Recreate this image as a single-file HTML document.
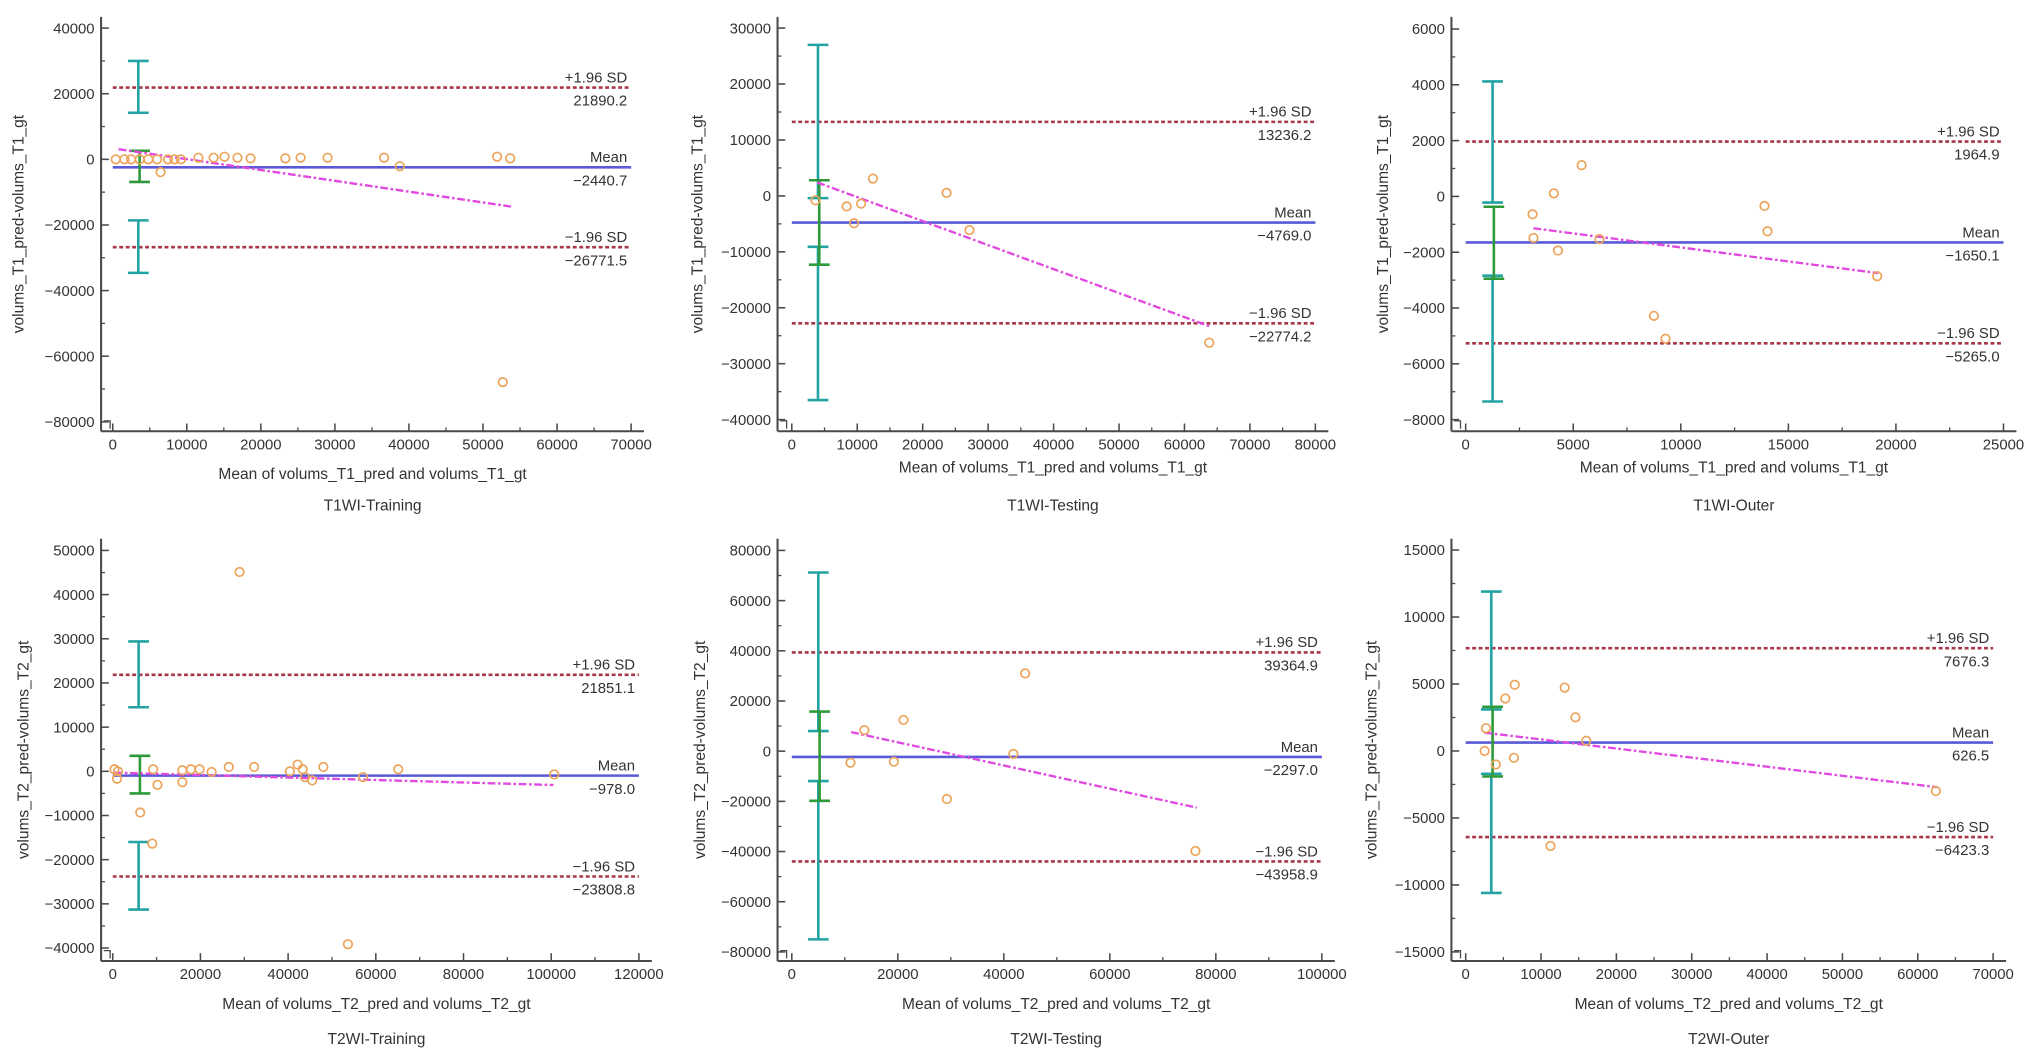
<!DOCTYPE html>
<html><head><meta charset="utf-8"><style>
html,body{margin:0;padding:0;background:#fff;}
svg{display:block;font-family:"Liberation Sans",Arial,sans-serif;}
</style></head><body>
<svg id="fig" width="2032" height="1062" viewBox="0 0 1568 820" preserveAspectRatio="none" xmlns="http://www.w3.org/2000/svg"></svg>
<script>
// ---- data ----
const p1X=[410,1590,2470,3640,4810,5990,6460,7460,8340,9220,11570,13620,15090,16850,18610,23310,25370,29010,36640,38760,51910,53670,52670];
const p1Y=[0,0,0,0,0,0,-3900,0,0,0,500,500,800,500,300,300,500,500,500,-2100,800,300,-67900];
const p1Stats=[21890.2,-2440.7,-26771.5];
const p1Reg=[800,3100,53800,-14400];
const p1CI=[3450,30000,14200,2600,-6900,-18600,-34600];

const p2X=[3620,8380,9510,10590,12400,23650,27140,63790];
const p2Y=[-790,-1880,-4900,-1390,3090,540,-6110,-26250];
const p2Stats=[13236.2,-4769.0,-22774.2];
const p2Reg=[3900,2400,63800,-23300];
const p2CI=[4000,27000,-400,2800,-12300,-9100,-36500];

const p3X=[3110,3150,4100,4290,5390,6220,8750,9290,13890,14030,19130];
const p3Y=[-640,-1490,110,-1940,1120,-1530,-4280,-5100,-340,-1250,-2860];
const p3Stats=[1964.9,-1650.1,-5265.0];
const p3Reg=[3150,-1140,19180,-2750];
const p3CI=[1250,4120,-220,-370,-2950,-2840,-7350];

const p4X=[390,980,1180,6270,9020,9220,10200,15880,15880,17840,19800,22550,26470,28920,32250,40390,42160,43330,43820,45490,48040,53630,57060,65100,100690];
const p4Y=[460,-1680,0,-9330,-16360,460,-3060,230,-2450,460,460,-150,990,45110,990,0,1530,460,-1300,-2060,990,-39140,-1300,460,-700];
const p4Stats=[21851.1,-978.0,-23808.8];
const p4Reg=[400,-300,100500,-3100];
const p4CI=[5900,29400,14500,3500,-5000,-16000,-31300];

const p5X=[11070,13690,19260,21070,29260,41800,44020,76150];
const p5Y=[-4600,8390,-4190,12450,-19080,-1080,30990,-39780];
const p5Stats=[39364.9,-2297.0,-43958.9];
const p5Reg=[11200,7600,76400,-22500];
const p5CI=[5000,71200,8000,15800,-19800,-11900,-75000];

const p6X=[2510,2690,4000,5260,6400,6510,11260,13140,14570,16000,62400];
const p6Y=[0,1700,-1010,3920,-510,4940,-7090,4730,2510,760,-2990];
const p6Stats=[7676.3,626.5,-6423.3];
const p6Reg=[2500,1370,62500,-2700];
const p6CI=[3400,11900,3100,3300,-1900,-1700,-10600];

const p1XTicks=[0,10000,20000,30000,40000,50000,60000,70000];
const p1YTicks=[40000,20000,0,-20000,-40000,-60000,-80000];
const p2XTicks=[0,10000,20000,30000,40000,50000,60000,70000,80000];
const p2YTicks=[30000,20000,10000,0,-10000,-20000,-30000,-40000];
const p3XTicks=[0,5000,10000,15000,20000,25000];
const p3YTicks=[6000,4000,2000,0,-2000,-4000,-6000,-8000];
const p4XTicks=[0,20000,40000,60000,80000,100000,120000];
const p4YTicks=[50000,40000,30000,20000,10000,0,-10000,-20000,-30000,-40000];
const p5XTicks=[0,20000,40000,60000,80000,100000];
const p5YTicks=[80000,60000,40000,20000,0,-20000,-40000,-60000,-80000];
const p6XTicks=[0,10000,20000,30000,40000,50000,60000,70000];
const p6YTicks=[15000,10000,5000,0,-5000,-10000,-15000];

// ---- layout ----
const svg=document.getElementById('fig');
const NS='http://www.w3.org/2000/svg';
function mk(tag,attrs,parent){const e=document.createElementNS(NS,tag);for(const k in attrs)e.setAttribute(k,attrs[k]);(parent||svg).appendChild(e);return e;}

const panels=[
 {id:'t1-training',x:p1X,y:p1Y,s:p1Stats,r:p1Reg,ci:p1CI,xt:p1XTicks,yt:p1YTicks,spine:78,px0:87,px1:487,top:13,axisY:333,py0:21.7,py1:325.7,xlab:'Mean of volums_T1_pred and volums_T1_gt',ylab:'volums_T1_pred-volums_T1_gt',title:'T1WI-Training',xlabY:370,titleY:394,yoff:60},
 {id:'t1-testing',x:p2X,y:p2Y,s:p2Stats,r:p2Reg,ci:p2CI,xt:p2XTicks,yt:p2YTicks,spine:600,px0:611,px1:1015,top:13,axisY:333,py0:21.7,py1:324,xlab:'Mean of volums_T1_pred and volums_T1_gt',ylab:'volums_T1_pred-volums_T1_gt',title:'T1WI-Testing',xlabY:365,titleY:394,yoff:58},
 {id:'t1-outer',x:p3X,y:p3Y,s:p3Stats,r:p3Reg,ci:p3CI,xt:p3XTicks,yt:p3YTicks,spine:1120,px0:1131,px1:1546,top:13,axisY:333,py0:22.4,py1:324,xlab:'Mean of volums_T1_pred and volums_T1_gt',ylab:'volums_T1_pred-volums_T1_gt',title:'T1WI-Outer',xlabY:365,titleY:394,yoff:49},
 {id:'t2-training',x:p4X,y:p4Y,s:p4Stats,r:p4Reg,ci:p4CI,xt:p4XTicks,yt:p4YTicks,spine:78,px0:87,px1:493,top:416,axisY:742,py0:425,py1:732,xlab:'Mean of volums_T2_pred and volums_T2_gt',ylab:'volums_T2_pred-volums_T2_gt',title:'T2WI-Training',xlabY:779,titleY:806,yoff:56},
 {id:'t2-testing',x:p5X,y:p5Y,s:p5Stats,r:p5Reg,ci:p5CI,xt:p5XTicks,yt:p5YTicks,spine:600,px0:611,px1:1020,top:416,axisY:742,py0:425,py1:735,xlab:'Mean of volums_T2_pred and volums_T2_gt',ylab:'volums_T2_pred-volums_T2_gt',title:'T2WI-Testing',xlabY:779,titleY:806,yoff:56},
 {id:'t2-outer',x:p6X,y:p6Y,s:p6Stats,r:p6Reg,ci:p6CI,xt:p6XTicks,yt:p6YTicks,spine:1120,px0:1131,px1:1538,top:416,axisY:742,py0:424.7,py1:735,xlab:'Mean of volums_T2_pred and volums_T2_gt',ylab:'volums_T2_pred-volums_T2_gt',title:'T2WI-Outer',xlabY:779,titleY:806,yoff:58}
];

panels.forEach(p=>{
 const g=mk('g',{});
 
 
 const xmin=p.xt[0],xmax=p.xt[p.xt.length-1];
 const ymax=p.yt[0],ymin=p.yt[p.yt.length-1];
 const sx=v=>p.px0+(v-xmin)/(xmax-xmin)*(p.px1-p.px0);
 const sy=v=>p.py0+(ymax-v)/(ymax-ymin)*(p.py1-p.py0);
 const ax='#4a4a4a';
 const ya=mk('line',{x1:p.spine,y1:p.top,x2:p.spine,y2:p.axisY,stroke:ax,'stroke-width':1.6},g);
 
 
 const xa=mk('line',{x1:p.spine,y1:p.axisY,x2:p.px1+10,y2:p.axisY,stroke:ax,'stroke-width':1.6},g);
 
 
 p.yt.forEach((t,i)=>{
  const y=sy(t);
  mk('line',{x1:p.spine,y1:y,x2:p.spine+6,y2:y,stroke:ax,'stroke-width':1.2},g);
  const tx=mk('text',{x:p.spine-5,y:y+4,'font-size':11.5,'text-anchor':'end',fill:'#333'},g);
  tx.textContent=String(t).replace('-','\u2212');
  
  
  if(i<p.yt.length-1){const ym=sy((t+p.yt[i+1])/2);mk('line',{x1:p.spine,y1:ym,x2:p.spine+3,y2:ym,stroke:ax,'stroke-width':1},g);}
 });
 p.xt.forEach((t,i)=>{
  const x=sx(t);
  mk('line',{x1:x,y1:p.axisY,x2:x,y2:p.axisY-6,stroke:ax,'stroke-width':1.2},g);
  const tx=mk('text',{x:x,y:p.axisY+14,'font-size':11.5,'text-anchor':'middle',fill:'#333'},g);
  tx.textContent=String(t);
  
  
  if(i<p.xt.length-1){const xm=sx((t+p.xt[i+1])/2);mk('line',{x1:xm,y1:p.axisY,x2:xm,y2:p.axisY-3,stroke:ax,'stroke-width':1},g);}
 });
 mk('path',{d:`M${p.spine+2} ${p.axisY-8} L${p.spine+7} ${p.axisY-8} L${p.spine+7} ${p.axisY-2}`,stroke:ax,fill:'none','stroke-width':1},g);
 const xl=mk('text',{x:(p.spine+p.px1+10)/2,y:p.xlabY,'font-size':12,'text-anchor':'middle',fill:'#333'},g);
 xl.textContent=p.xlab;
 
 
 const cy=(p.top+p.axisY)/2;
 const yx=p.spine-p.yoff;
 const yl=mk('text',{x:yx,y:cy,'font-size':12,'text-anchor':'middle',fill:'#333',transform:`rotate(-90 ${yx} ${cy})`},g);
 yl.textContent=p.ylab;
 
 
 const tl=mk('text',{x:(p.spine+p.px1+10)/2,y:p.titleY,'font-size':12,'text-anchor':'middle',fill:'#333'},g);
 tl.textContent=p.title;
 
 
 const names=['+1.96 SD','Mean','\u22121.96 SD'];
 p.s.forEach((v,i)=>{
  const y=sy(v);
  if(i===1){
   const l=mk('line',{x1:sx(xmin),y1:y,x2:sx(xmax),y2:y,stroke:'#5a5ad8','stroke-width':2},g);
   
   
  } else {
   const l=mk('line',{x1:sx(xmin),y1:y,x2:sx(xmax),y2:y,stroke:'#a83848','stroke-width':2,'stroke-dasharray':'3 2'},g);
   
   
  }
  const a=mk('text',{x:sx(xmax)-3,y:y-4,'font-size':11.5,'text-anchor':'end',fill:'#333'},g);
  a.textContent=names[i];
  
  
  const b=mk('text',{x:sx(xmax)-3,y:y+14,'font-size':11.5,'text-anchor':'end',fill:'#333'},g);
  b.textContent=v.toFixed(1).replace('-','\u2212');
  
  
 });
 const ciX=sx(p.ci[0]);
 [[1,2,'#23a3a3','upper-limit-ci'],[5,6,'#23a3a3','lower-limit-ci'],[3,4,'#2f9a3a','mean-ci']].forEach(c=>{
  const ya1=sy(p.ci[c[0]]),ya2=sy(p.ci[c[1]]);
  const off=c[2]==='#2f9a3a'?1:0;
  const bg=mk('g',{stroke:c[2],'stroke-width':2},g);
  
  
  mk('line',{x1:ciX+off,y1:ya1,x2:ciX+off,y2:ya2},bg);
  mk('line',{x1:ciX-8+off,y1:ya1,x2:ciX+8+off,y2:ya1},bg);
  mk('line',{x1:ciX-8+off,y1:ya2,x2:ciX+8+off,y2:ya2},bg);
 });
 const rl=mk('line',{x1:sx(p.r[0]),y1:sy(p.r[1]),x2:sx(p.r[2]),y2:sy(p.r[3]),stroke:'#e048e0','stroke-width':1.8,'stroke-dasharray':'6 2 2 2'},g);
 
 
 p.x.forEach((xv,i)=>{
  const c=mk('circle',{cx:sx(xv),cy:sy(p.y[i]),r:3.3,fill:'none',stroke:'#eba45a','stroke-width':1.3},g);
  
  
 });
});
</script>
</body></html>
